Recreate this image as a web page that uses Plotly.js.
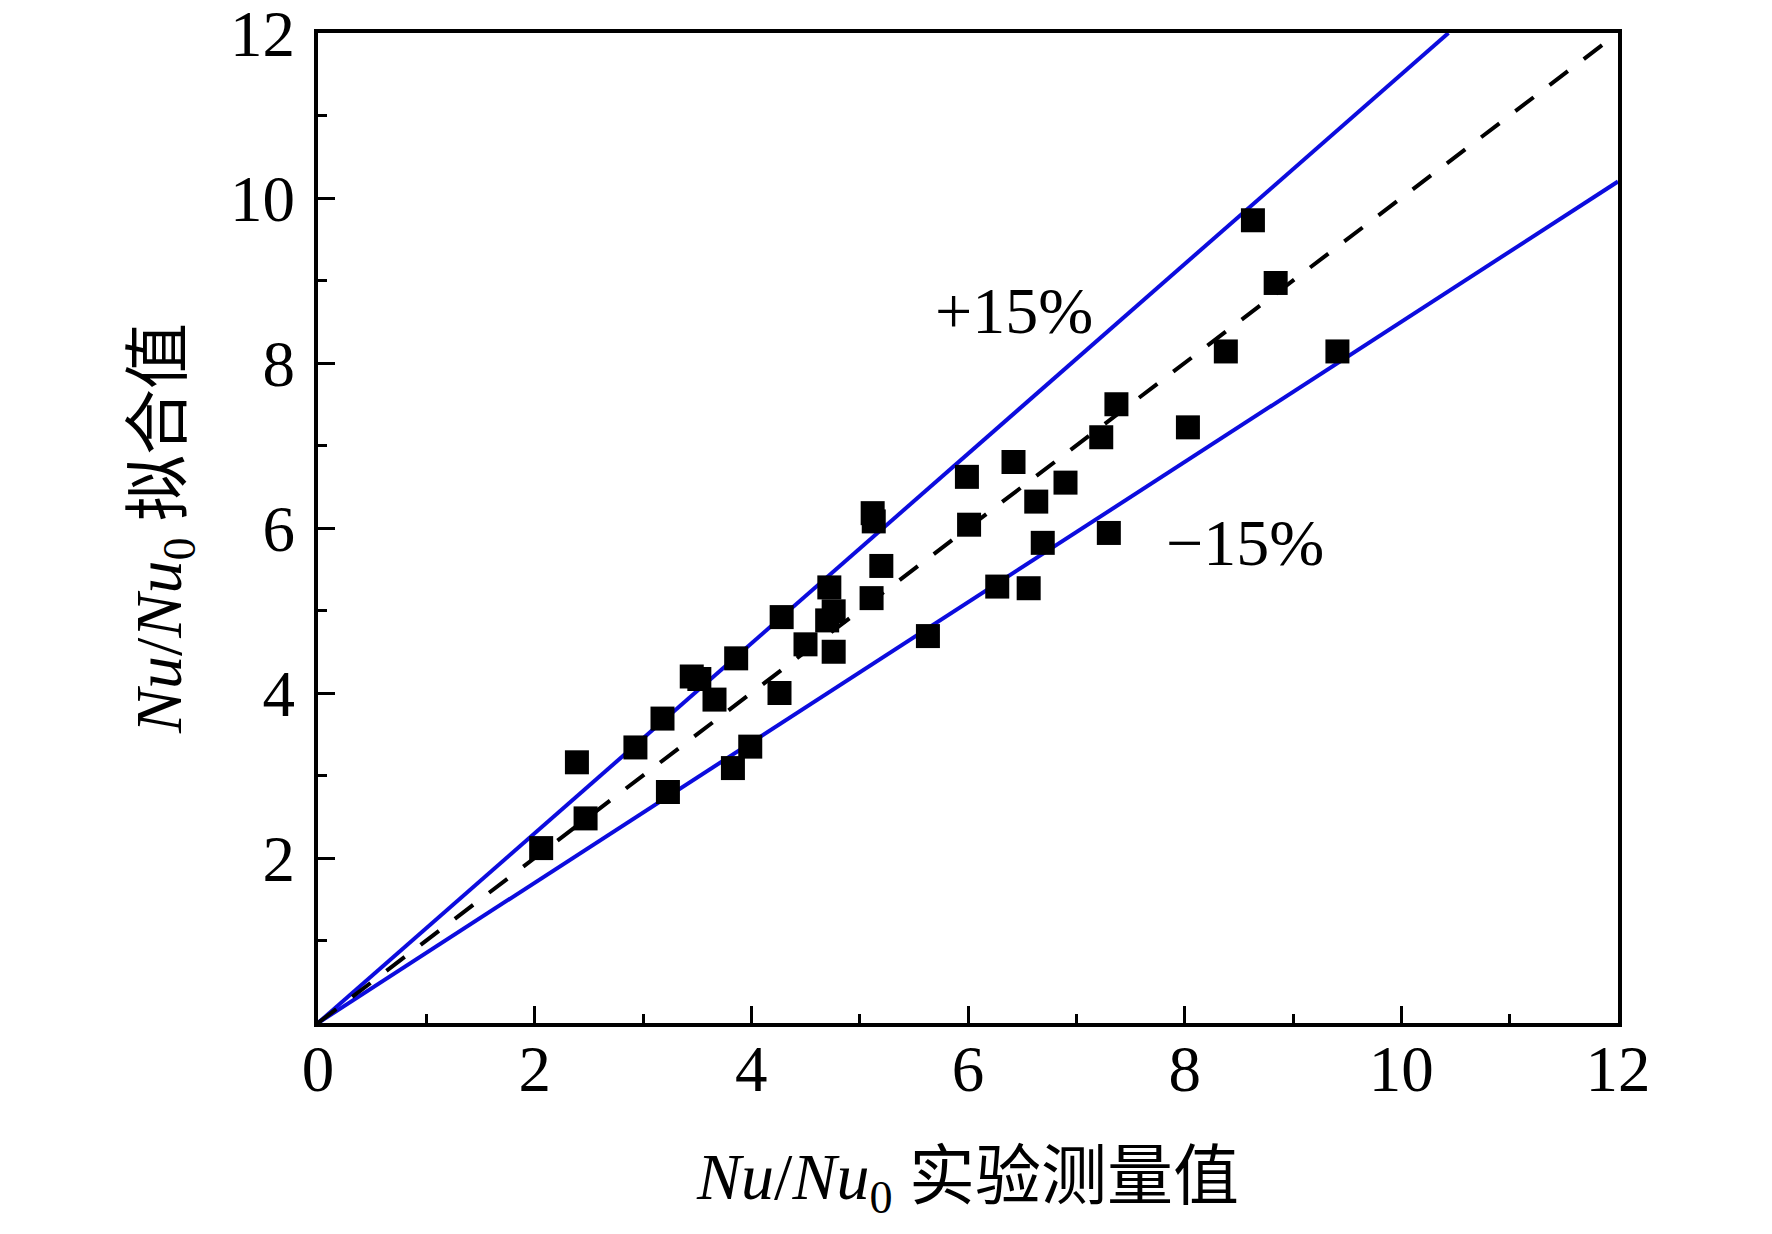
<!DOCTYPE html>
<html>
<head>
<meta charset="utf-8">
<script src="https://cdn.plot.ly/plotly-3.0.1.min.js"></script>
<style>
  html, body { margin: 0; padding: 0; background: #fff; }
  #myDiv { width: 1772px; height: 1234px; }
</style>
</head>
<body>
<div id="myDiv"></div>
<script>
//  ======== DATA ========
// experimental Nu/Nu0 (x) vs fitted Nu/Nu0 (y)
var measured = [2.06, 2.47, 2.39, 2.93, 3.18, 3.23, 3.45, 3.52, 3.66, 3.86,
                3.83, 3.99, 4.26, 4.28, 4.50, 4.72, 4.76, 4.70, 4.76, 5.12,
                5.13, 5.20, 5.11, 5.63, 5.99, 6.01, 6.27, 6.42, 6.56, 6.63,
                6.69, 6.90, 7.23, 7.30, 7.37, 8.03, 8.38, 8.63, 8.84, 9.41];
var fitted   = [2.12, 2.48, 3.16, 3.34, 3.69, 2.80, 4.20, 4.17, 3.92, 4.42,
                3.09, 3.35, 4.00, 4.92, 4.59, 5.28, 4.99, 4.88, 4.50, 6.18,
                6.08, 5.54, 5.15, 4.69, 6.62, 6.04, 5.29, 6.80, 5.27, 6.32,
                5.82, 6.55, 7.10, 5.94, 7.50, 7.22, 8.14, 9.73, 8.97, 8.14];

// reference lines: y = x and the +/-15% band
var diagX  = [0, 12];
var diagY  = [0, 12];
var upperX = [0, 10.435];
var upperY = [0, 12];
var lowerX = [0, 12];
var lowerY = [0, 10.2];

var xTicks = [0, 2, 4, 6, 8, 10, 12];
var yTicks = [2, 4, 6, 8, 10, 12];

var serif = 'Liberation Serif, Times New Roman, Noto Sans CJK SC, serif';
var blue = 'rgb(12,12,222)';

//  ======== PLOT ========
var traceUpper = {
  x: upperX, y: upperY, mode: 'lines', type: 'scatter',
  line: {color: blue, width: 4}, hoverinfo: 'skip'
};
var traceLower = {
  x: lowerX, y: lowerY, mode: 'lines', type: 'scatter',
  line: {color: blue, width: 4}, hoverinfo: 'skip'
};
var tracePoints = {
  x: measured, y: fitted, mode: 'markers', type: 'scatter',
  marker: {symbol: 'square', size: 24, color: '#000'}
};
var traceDiag = {
  x: diagX, y: diagY, mode: 'lines', type: 'scatter',
  line: {color: '#000', width: 4, dash: '23px,20px'}, hoverinfo: 'skip'
};

var data = [traceUpper, traceLower, tracePoints, traceDiag];

var layout = {
  width: 1772,
  height: 1234,
  showlegend: false,
  margin: {l: 318, r: 154, t: 33, b: 211, pad: 0},
  plot_bgcolor: '#fff',
  paper_bgcolor: '#fff',
  font: {family: serif, size: 65, color: '#000'},
  xaxis: {
    range: [0, 12],
    tickvals: xTicks,
    ticks: 'inside', ticklen: 17, tickwidth: 3, tickcolor: '#000',
    minor: {dtick: 1, ticks: 'inside', ticklen: 9, tickwidth: 3, tickcolor: '#000'},
    showline: true, linecolor: '#000', linewidth: 4, mirror: true,
    showgrid: false, zeroline: false,
    ticklabelstandoff: -14,
    ticklabeloverflow: 'allow',
    tickfont: {family: serif, size: 65},
    title: {
      text: '<i>Nu</i>/<i>Nu</i><sub>0</sub> 实验测量值',
      font: {family: serif, size: 66},
      standoff: 50
    }
  },
  yaxis: {
    range: [0, 12],
    tickvals: yTicks,
    ticks: 'inside', ticklen: 17, tickwidth: 3, tickcolor: '#000',
    minor: {dtick: 1, ticks: 'inside', ticklen: 9, tickwidth: 3, tickcolor: '#000'},
    showline: true, linecolor: '#000', linewidth: 4, mirror: true,
    showgrid: false, zeroline: false,
    ticklabelstandoff: 6,
    ticklabeloverflow: 'allow',
    tickfont: {family: serif, size: 65},
    title: {
      text: '<i>Nu</i>/<i>Nu</i><sub>0</sub> 拟合值',
      font: {family: serif, size: 66},
      standoff: 28
    }
  },
  annotations: [
    {x: 6.42, y: 8.64, xref: 'x', yref: 'y', text: '+15%', showarrow: false,
     font: {family: serif, size: 66}},
    {x: 8.56, y: 5.83, xref: 'x', yref: 'y', text: '\u221215%', showarrow: false,
     font: {family: serif, size: 66}}
  ]
};

Plotly.newPlot('myDiv', data, layout, {staticPlot: true});
</script>
</body>
</html>
